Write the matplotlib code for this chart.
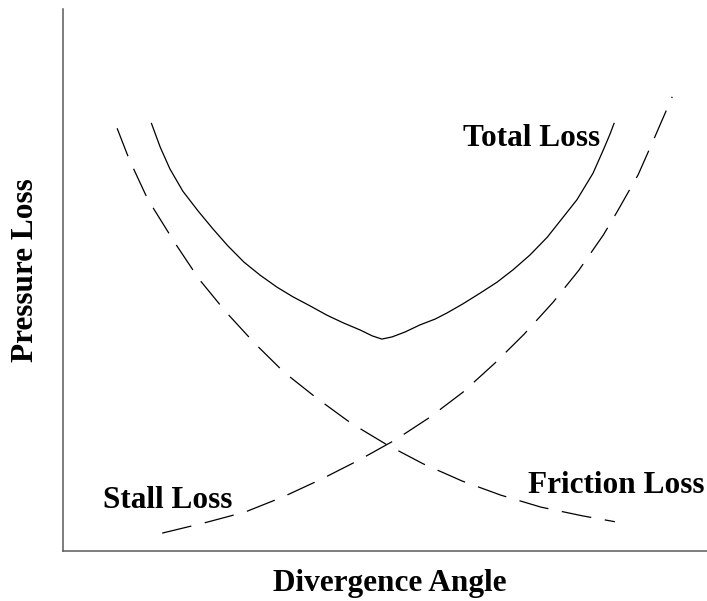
import matplotlib
matplotlib.use("Agg")
import matplotlib.pyplot as plt

# ---- data (arbitrary units) ----
friction_angle = [0.84, 1.02, 1.12, 1.30, 1.41, 1.74, 2.11, 2.53, 2.97, 3.43, 3.94, 4.47, 5.03, 5.59, 6.20, 6.80, 7.42, 8.06, 8.57]
friction_loss  = [7.80, 7.25, 6.99, 6.53, 6.31, 5.68, 5.02, 4.41, 3.84, 3.30, 2.82, 2.36, 1.96, 1.61, 1.29, 1.03, 0.81, 0.65, 0.54]

stall_angle = [1.54, 2.20, 2.83, 3.42, 4.02, 4.60, 5.16, 5.70, 6.21, 6.71, 7.16, 7.61, 8.01, 8.39, 8.60, 8.93, 9.19, 9.46]
stall_loss  = [0.33, 0.52, 0.72, 1.00, 1.33, 1.68, 2.05, 2.47, 2.93, 3.47, 4.00, 4.59, 5.18, 5.83, 6.25, 6.94, 7.64, 8.38]

total_angle = [1.37, 1.51, 1.66, 1.86, 2.10, 2.33, 2.56, 2.81, 3.06, 3.32, 3.57, 3.84, 4.10, 4.35, 4.61,
               4.80, 4.95, 5.11, 5.31, 5.54, 5.78, 5.96, 6.21, 6.48, 6.74, 6.99, 7.25, 7.52, 7.72, 7.98,
               8.23, 8.39, 8.49, 8.56]
total_loss  = [7.90, 7.45, 7.05, 6.64, 6.27, 5.94, 5.63, 5.33, 5.09, 4.87, 4.69, 4.52, 4.35, 4.21, 4.08,
               3.97, 3.91, 3.95, 4.04, 4.17, 4.28, 4.39, 4.56, 4.76, 4.96, 5.19, 5.46, 5.79, 6.09, 6.48,
               6.97, 7.40, 7.68, 7.90]

x_label = "Divergence Angle"
y_label = "Pressure Loss"
curve_labels = ["Total Loss", "Friction Loss", "Stall Loss"]

# ---- figure ----
W, H = 707, 601
fig = plt.figure(figsize=(W / 100, H / 100), dpi=100)
ax = fig.add_axes([63 / W, 1 - 551 / H, (707 - 63) / W, (551 - 9) / H])
ax.set_xlim(0, 10)
ax.set_ylim(0, 10)

font = dict(family="Liberation Serif", weight="bold", size=22.5, color="black")

ax.plot(total_angle, total_loss, color="black", lw=0.9, solid_capstyle="butt", solid_joinstyle="round")
l1, = ax.plot(friction_angle, friction_loss, color="black", lw=0.9, dash_capstyle="butt")
l1.set_dashes((24, 11))
l2, = ax.plot(stall_angle, stall_loss, color="black", lw=0.9, dash_capstyle="butt")
l2.set_dashes((24, 11))

ax.text(6.21, 7.47, curve_labels[0], ha="left", va="baseline", **font)
ax.text(7.22, 1.07, curve_labels[1], ha="left", va="baseline", **font)
ax.text(0.62, 0.79, curve_labels[2], ha="left", va="baseline", **font)

for s in ["top", "right"]:
    ax.spines[s].set_visible(False)
for s in ["left", "bottom"]:
    ax.spines[s].set_color("#5a5a5a")
    ax.spines[s].set_linewidth(1.1)
ax.set_xticks([])
ax.set_yticks([])
ax.patch.set_alpha(0)

fig.text(390 / W, 1 - 591 / H, x_label, ha="center", va="baseline", **font)
fig.text(26 / W, 1 - 270 / H, y_label, ha="center", va="center", rotation=90, **font)

fig.savefig("out.png", dpi=100, facecolor="white")
